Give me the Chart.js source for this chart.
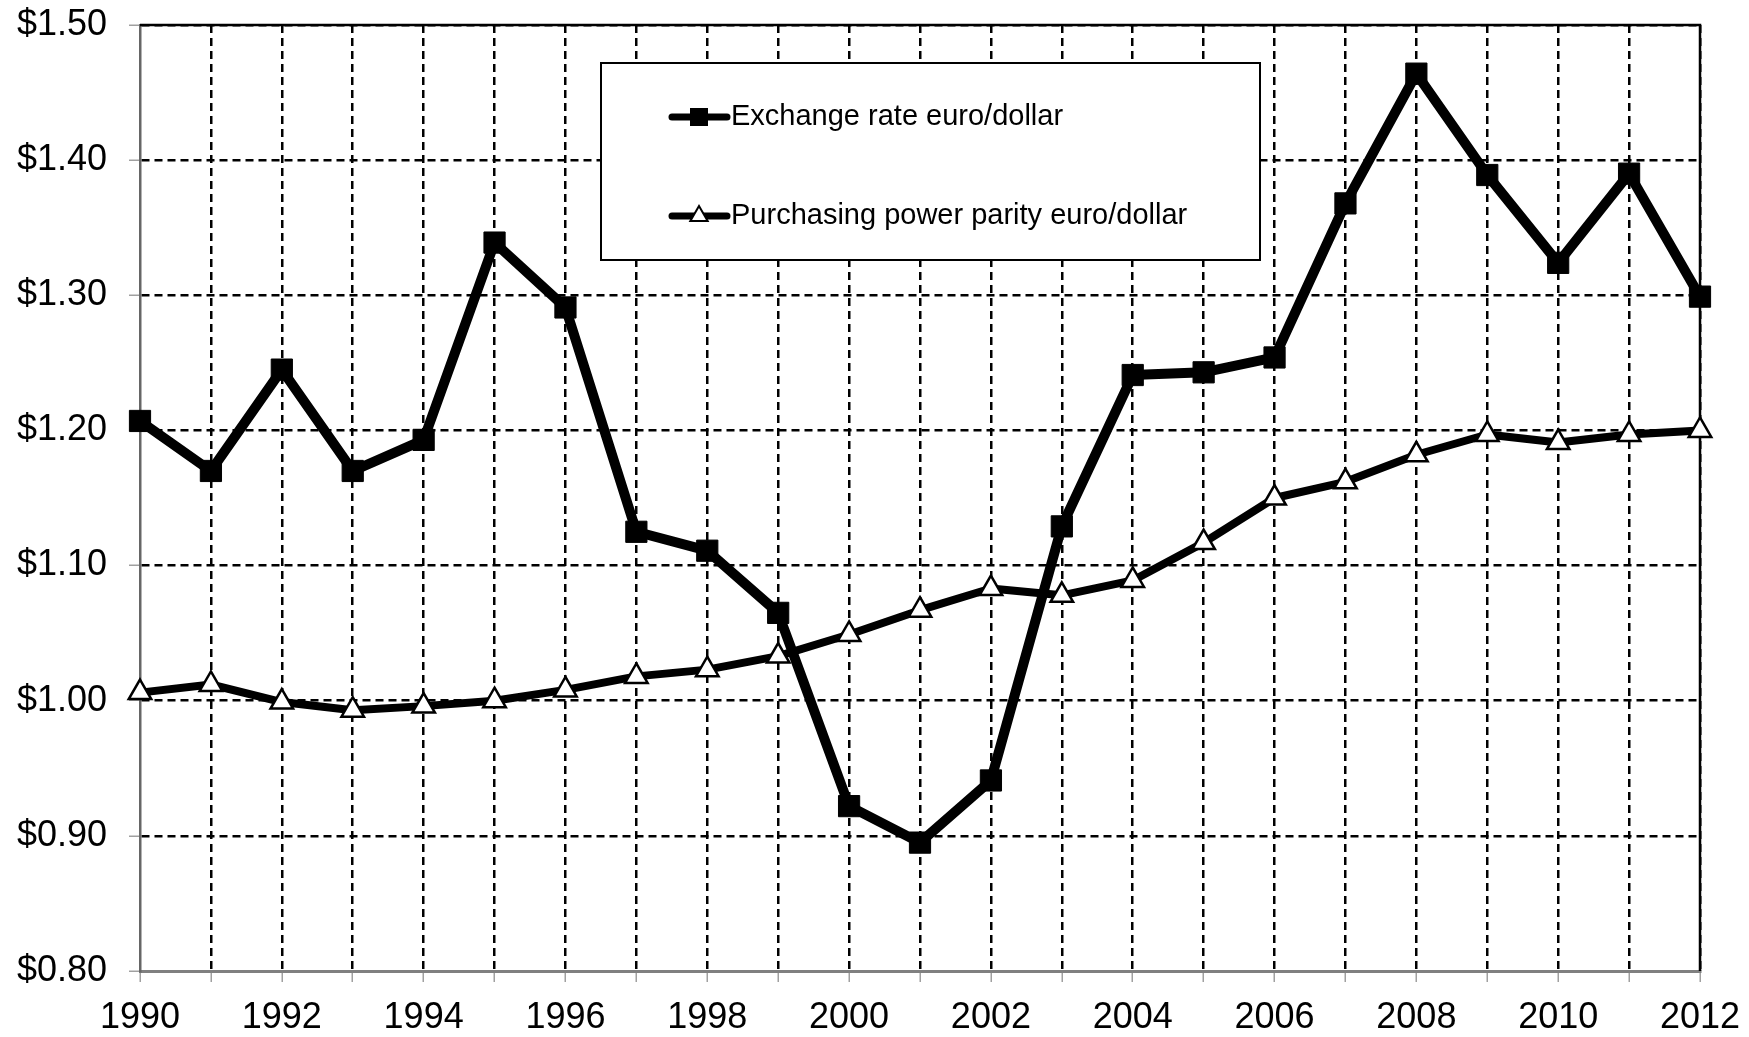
<!DOCTYPE html>
<html><head><meta charset="utf-8">
<script src="https://cdn.jsdelivr.net/npm/chart.js@4.4.1/dist/chart.umd.min.js"></script>
<style>html,body{margin:0;padding:0;background:#fff;}#wrap{width:1749px;height:1037px;}</style>
</head><body><div id="wrap"><canvas id="c" width="1749" height="1037"></canvas></div>
<script>
const years = ['1990','1991','1992','1993','1994','1995','1996','1997','1998','1999','2000','2001','2002','2003','2004','2005','2006','2007','2008','2009','2010','2011','2012'];
const exchangeRate = [1.207,1.170,1.245,1.170,1.193,1.339,1.291,1.125,1.111,1.065,0.922,0.895,0.941,1.129,1.241,1.243,1.254,1.368,1.464,1.389,1.324,1.390,1.299];
const ppp = [1.006,1.012,0.999,0.993,0.996,1.000,1.008,1.018,1.023,1.033,1.049,1.067,1.083,1.078,1.089,1.117,1.150,1.162,1.182,1.197,1.191,1.197,1.200];
const seriesLabels = ['Exchange rate euro/dollar','Purchasing power parity euro/dollar'];
const yMin = 0.8, yMax = 1.5, yStep = 0.1;

const FONT = '"Liberation Sans", Arial, sans-serif';

const framePlugin = {
  id: 'frame',
  beforeDatasetsDraw(chart) {
    const {ctx, chartArea: a} = chart;
    ctx.save();
    ctx.strokeStyle = '#000';
    ctx.lineWidth = 2.5;
    ctx.setLineDash([]);
    ctx.beginPath();
    ctx.moveTo(a.left, a.top);
    ctx.lineTo(a.right, a.top);
    ctx.lineTo(a.right, a.bottom);
    ctx.stroke();
    ctx.restore();
  },
  afterDraw(chart) {
    const {ctx} = chart;
    const box = {x: 601, y: 63, w: 659, h: 197};
    ctx.save();
    ctx.fillStyle = '#fff';
    ctx.fillRect(box.x, box.y, box.w, box.h);
    ctx.strokeStyle = '#000';
    ctx.lineWidth = 2;
    ctx.strokeRect(box.x, box.y, box.w, box.h);
    const rows = [117, 216];
    chart.data.datasets.forEach((ds, i) => {
      const y = rows[i];
      ctx.strokeStyle = '#000';
      ctx.lineWidth = 7;
      ctx.lineCap = 'round';
      ctx.beginPath();
      ctx.moveTo(672, y);
      ctx.lineTo(727, y);
      ctx.stroke();
      ctx.fillStyle = ds.pointBackgroundColor;
      ctx.strokeStyle = '#000';
      ctx.lineWidth = 2;
      ctx.beginPath();
      if (ds.pointStyle === 'rect') {
        const s = 8;
        ctx.rect(699 - s, y - s, 2*s, 2*s);
      } else {
        const r = 10;
        ctx.moveTo(699, y - r);
        ctx.lineTo(699 + 0.866*r, y + 0.5*r);
        ctx.lineTo(699 - 0.866*r, y + 0.5*r);
        ctx.closePath();
      }
      ctx.fill();
      ctx.stroke();
      ctx.fillStyle = '#000';
      ctx.font = '29px ' + FONT;
      ctx.textBaseline = 'middle';
      ctx.textAlign = 'left';
      ctx.fillText(ds.label, 731, y);
    });
    ctx.restore();
  }
};

new Chart(document.getElementById('c'), {
  type: 'line',
  data: {
    labels: years,
    datasets: [
      {
        label: seriesLabels[0],
        data: exchangeRate,
        borderColor: '#000',
        borderWidth: 10,
        pointStyle: 'rect',
        pointRadius: 15,
        pointHoverRadius: 15,
        pointBackgroundColor: '#000',
        pointBorderColor: '#000',
        pointBorderWidth: 1,
        tension: 0,
        fill: false,
        clip: false,
        borderJoinStyle: 'round'
      },
      {
        label: seriesLabels[1],
        data: ppp,
        borderColor: '#000',
        borderWidth: 8,
        pointStyle: 'triangle',
        pointRadius: 13,
        pointHoverRadius: 13,
        pointBackgroundColor: '#fff',
        pointBorderColor: '#000',
        pointBorderWidth: 2.5,
        tension: 0,
        fill: false,
        clip: false,
        borderJoinStyle: 'round'
      }
    ]
  },
  options: {
    responsive: false,
    animation: false,
    devicePixelRatio: 1,
    layout: {padding: {top: 25, right: 49, left: 2, bottom: 0}},
    plugins: {legend: {display: false}, tooltip: {enabled: false}},
    scales: {
      x: {
        type: 'category',
        offset: false,
        afterFit: s => { s.height = 66; s.paddingLeft = 0; s.paddingRight = 0; },
        grid: {
          color: c => (c.index === 0 ? 'rgba(0,0,0,0)' : '#000'), lineWidth: 2.5,
          drawTicks: true, tickLength: 11, tickColor: '#a0a0a0', tickWidth: 1.5, tickBorderDash: []
        },
        border: {display: true, color: '#808080', width: 3, dash: [8, 5]},
        ticks: {
          autoSkip: false, maxRotation: 0, minRotation: 0, padding: 14,
          color: '#000', font: {family: FONT, size: 36},
          callback: function(v, i) { const l = this.getLabelForValue(v); return (Number(l) % 2 === 0) ? l : ''; }
        }
      },
      y: {
        min: yMin, max: yMax,
        afterFit: s => { s.width = 138; s.paddingTop = 0; s.paddingBottom = 0; },
        grid: {
          color: '#000', lineWidth: 2.5,
          drawTicks: true, tickLength: 11, tickColor: '#a0a0a0', tickWidth: 1.5, tickBorderDash: []
        },
        border: {display: true, color: '#666666', width: 2.5, dash: [8, 5]},
        ticks: {
          stepSize: yStep, padding: 22,
          color: '#000', font: {family: FONT, size: 36},
          callback: v => '$' + Number(v).toFixed(2)
        }
      }
    }
  },
  plugins: [framePlugin]
});
</script></body></html>
